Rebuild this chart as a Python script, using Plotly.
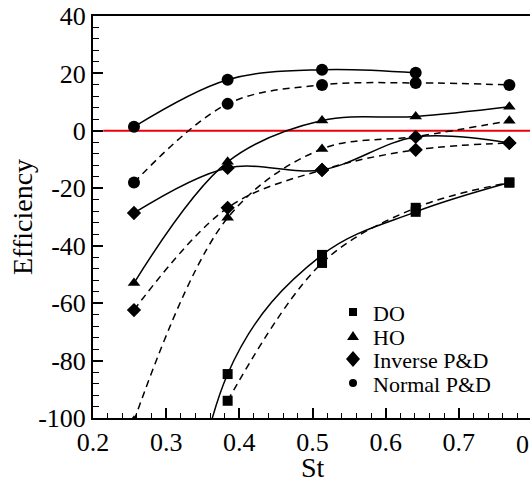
import plotly.graph_objects as go

# ---- data ----
st = [0.256, 0.384, 0.513, 0.641, 0.769]

do_solid = [-300.0, -84.7, -43.2, -28.2, -18.0]
do_dashed = [None, -94.0, -46.0, -26.8, -18.0]

ho_solid = [-53.0, -10.8, 3.6, 5.0, 8.4]
ho_dashed = [-101.0, -30.3, -6.3, -2.0, 3.5]

inv_solid = [-28.6, -12.9, -13.6, -2.1, -4.2]
inv_dashed = [-62.4, -26.8, -13.6, -6.6, -4.2]

norm_solid = [1.4, 17.8, 21.3, 20.2]
norm_dashed = [-18.0, 9.4, 16.0, 16.7, 16.0]

series_names = ["DO", "HO", "Inverse P&D", "Normal P&D"]
x_ticks = [0.2, 0.3, 0.4, 0.5, 0.6, 0.7]
y_ticks = [-100, -80, -60, -40, -20, 0, 20, 40]
y_ticktext = ["-100", "-80", "-60", "-40", "-20", "0", "20", "40"]
zero_line_x = [0.214, 0.8]
zero_line_y = [0, 0]

FONT = "Liberation Serif, Times New Roman, serif"
X_MAX = 0.7972

# plot-area pixel geometry (layout only)
L, T, B = 93, 16, 418
W = 530 - L
H = B - T


def px_x(p):
    return (p - L) / W


def px_y(p):
    return (B - p) / H


fig = go.Figure()

# red zero reference line
fig.add_trace(go.Scatter(x=zero_line_x, y=zero_line_y, mode="lines",
                         line=dict(color="#e8000b", width=2), showlegend=False,
                         hoverinfo="skip"))


def add_series(y, symbol, size, dash, xs=st):
    fig.add_trace(go.Scatter(
        x=xs[:len(y)], y=y, mode="lines+markers",
        line=dict(color="black", width=1.5, shape="spline", smoothing=1, dash=dash),
        marker=dict(symbol=symbol, size=size, color="black"),
        showlegend=False, connectgaps=False))


SOLID = "solid"
DASH = "7px,5px"
add_series(do_solid, "square", 10, SOLID)
add_series(do_dashed, "square", 10, DASH)
add_series(ho_solid, "triangle-up", 11, SOLID)
add_series(ho_dashed, "triangle-up", 11, DASH)
add_series(inv_solid, "diamond", 11, SOLID)
add_series(inv_dashed, "diamond", 11, DASH)
add_series(norm_solid, "circle", 12, SOLID)
add_series(norm_dashed, "circle", 12, DASH)

# ---- manual legend (markers only, like the reference) ----
legend_sym_x = px_x(353)
legend_text_x = px_x(371)
legend_rows = [312, 336, 359, 383]
legend_glyphs = [
    dict(type="rect", x0=-4, x1=4, y0=-4, y1=4),
    dict(type="path", path="M-6,-4 L6,-4 L0,5 Z"),
    dict(type="path", path="M0,-8 L7,0 L0,8 L-7,0 Z"),
    dict(type="circle", x0=-4, x1=4, y0=-4, y1=4),
]
shapes = []
annotations = []
for name, row, g in zip(series_names, legend_rows, legend_glyphs):
    shp = dict(xref="paper", yref="paper", xsizemode="pixel", ysizemode="pixel",
               xanchor=legend_sym_x, yanchor=px_y(row),
               fillcolor="black", line=dict(color="black", width=0))
    shp.update(g)
    shapes.append(shp)
    annotations.append(dict(text=name, xref="paper", yref="paper", x=legend_text_x, y=px_y(row + 1),
                            showarrow=False, xanchor="left", yanchor="middle",
                            font=dict(family=FONT, size=22, color="black")))

annotations += [
    dict(text="Efficiency", xref="paper", yref="paper", x=px_x(22), y=0.5,
         textangle=-90, showarrow=False, xanchor="center", yanchor="middle",
         font=dict(family=FONT, size=28, color="black")),
    dict(text="St", xref="paper", yref="paper", x=px_x(313), y=px_y(467),
         showarrow=False, xanchor="center", yanchor="middle",
         font=dict(family=FONT, size=28, color="black")),
    dict(text="0.8", xref="paper", yref="paper", x=px_x(532), y=px_y(444),
         showarrow=False, xanchor="center", yanchor="middle",
         font=dict(family=FONT, size=26, color="black")),
]

fig.update_layout(
    width=530, height=481,
    margin=dict(l=L, r=0, t=T, b=481 - B, autoexpand=False),
    paper_bgcolor="white", plot_bgcolor="white",
    font=dict(family=FONT, color="black"),
    showlegend=False,
    xaxis=dict(range=[0.2, X_MAX], showline=True, linewidth=2, linecolor="black",
               mirror=True, showgrid=False, zeroline=False, automargin=False,
               tickmode="array", tickvals=x_ticks, ticktext=[str(v) for v in x_ticks],
               ticks="inside", ticklen=10, tickwidth=1.5, tickcolor="black",
               tickfont=dict(family=FONT, size=26, color="black"),
               minor=dict(dtick=0.02, tick0=0.2, ticks="inside", ticklen=5, tickwidth=1, tickcolor="black")),
    yaxis=dict(range=[-100, 40], showline=True, linewidth=2, linecolor="black",
               mirror=False, showgrid=False, zeroline=False, automargin=False,
               tickmode="array", tickvals=y_ticks, ticktext=y_ticktext,
               ticks="inside", ticklen=10, tickwidth=1.5, tickcolor="black",
               tickfont=dict(family=FONT, size=26, color="black"),
               minor=dict(dtick=4, tick0=0, ticks="inside", ticklen=6, tickwidth=1, tickcolor="black")),
    shapes=shapes,
    annotations=annotations,
)

# remove the default 8px page margin so the figure sits at the window's top-left corner
fig.write_html("out.html", config={"displayModeBar": False},
               post_script="document.body.style.margin='0';document.body.style.overflow='hidden';")
